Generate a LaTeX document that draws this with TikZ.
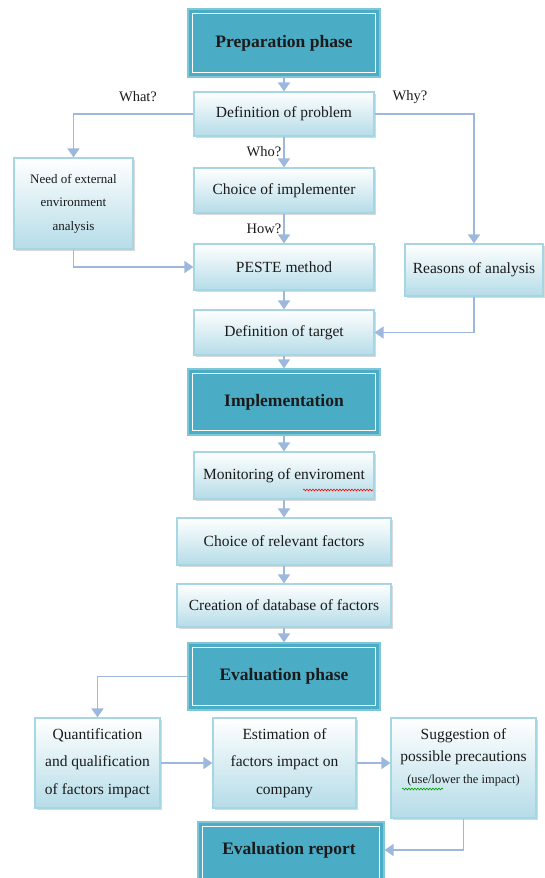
\documentclass[tikz,border=0pt]{standalone}
\usepackage{fontspec}
\setmainfont{Liberation Serif}
\usetikzlibrary{arrows.meta,shadows,decorations.pathmorphing,calc}
\definecolor{arr}{HTML}{9DB8DD}
\definecolor{lborder}{HTML}{A6D6E3}
\definecolor{lbottom}{HTML}{B5DCE8}
\definecolor{dfill}{HTML}{4BACC6}
\definecolor{dborder}{HTML}{7FC6D8}
\definecolor{txt}{HTML}{1A1A1A}
\begin{document}
\begin{tikzpicture}[x=1pt,y=-1pt,
  lbox/.style={draw=lborder,line width=1.2pt,top color=white,bottom color=lbottom,
    drop shadow={shadow xshift=2pt,shadow yshift=-2pt,fill=black!25,opacity=0.6},
    align=center,inner sep=2pt,text=txt,font=\fontsize{15.5}{26}\selectfont},
  dbox/.style={draw=dborder,line width=1.2pt,fill=dfill,text=txt,
    font=\fontsize{17.5}{20}\selectfont\bfseries},
  conn/.style={draw=arr,line width=1.6pt,-{Triangle[width=12pt,length=9pt]}},
  qlabel/.style={text=txt,font=\fontsize{14.5}{17}\selectfont,inner sep=1pt},
  squig/.style={line width=0.6pt,decorate,decoration={snake,amplitude=0.9pt,segment length=3pt}}
]
\useasboundingbox (0,0) rectangle (545,878);
\clip (0,0) rectangle (545,878);
% dark boxes
\node[dbox,minimum width=192pt,minimum height=68pt] (prep) at (284,43) {};
\node[dbox,minimum width=192pt,minimum height=66pt] (impl) at (284,402) {};
\node[dbox,minimum width=192pt,minimum height=67pt] (evalp) at (284,676.5) {};
\node[dbox,minimum width=186pt,minimum height=70pt] (report) at (291,857) {};
\foreach \n in {prep,impl,evalp,report}{
  \draw[white,line width=1.5pt] ($(\n.north west)+(5,5)$) rectangle ($(\n.south east)+(-5,-5)$);
}
\node[dbox,draw=none,fill=none] (preptext) at (prep) {Preparation phase};
\node[dbox,draw=none,fill=none] (impltext) at (impl) {Implementation};
\node[dbox,draw=none,fill=none] (evalptext) at (evalp) {Evaluation phase};
\node[dbox,draw=none,fill=none] (reporttext) at (289,850) {Evaluation report};
% light boxes
\node[lbox,minimum width=180pt,minimum height=44pt] (defp) at (284,114) {Definition of problem};
\node[lbox,minimum width=180pt,minimum height=45pt] (choice) at (284,190.5) {Choice of implementer};
\node[lbox,minimum width=180pt,minimum height=46pt] (peste) at (284,267) {PESTE method};
\node[lbox,minimum width=119pt,minimum height=91pt,font=\fontsize{13}{23.5}\selectfont] (need) at (73.5,203.5) {Need of external\\environment\\analysis};
\node[lbox,minimum width=138pt,minimum height=52pt] (reasons) at (474,270) {Reasons of analysis};
\node[lbox,minimum width=180pt,minimum height=45pt] (target) at (284,332.5) {Definition of target};
\node[lbox,minimum width=180pt,minimum height=47pt] (monit) at (284,475.5) {Monitoring of enviroment};
\node[lbox,minimum width=214pt,minimum height=47pt] (relev) at (284,541.5) {Choice of relevant factors};
\node[lbox,minimum width=214pt,minimum height=43pt] (create) at (284,605.5) {Creation of database of factors};
\node[lbox,minimum width=125pt,minimum height=90pt,font=\fontsize{15.5}{27.5}\selectfont] (quant) at (97.5,763) {Quantification\\and qualification\\of factors impact};
\node[lbox,minimum width=143pt,minimum height=90pt,font=\fontsize{15.5}{27.5}\selectfont] (estim) at (284.5,763) {Estimation of\\factors impact on\\company};
\node[lbox,minimum width=145pt,minimum height=100pt] (sugg) at (463.5,768) {};
\node[align=center,text=txt,font=\fontsize{15.5}{22}\selectfont,inner sep=0pt] (suggtext) at (463.5,757) {Suggestion of\\possible precautions\\{\fontsize{12.5}{22}\selectfont (use/lower the impact)}};
% spell-check squiggles
\draw[red,squig] (303,490) -- (373,490);
\draw[green!60!black,squig] (402,789) -- (443,789);
% connectors
\draw[conn] (prep) -- (defp);
\draw[conn] (defp) -- node[qlabel,left,pos=0.5,xshift=-1pt] (who) {Who?} (choice);
\draw[conn] (choice) -- node[qlabel,left,pos=0.5,xshift=-1pt] (how) {How?} (peste);
\draw[conn] (defp.west) -| (need.north);
\node[qlabel] (what) at (138,97) {What?};
\draw[conn] (defp.east) -| (reasons.north);
\node[qlabel] (why) at (410,97) {Why?};
\draw[conn] (need.south) |- (peste.west);
\draw[conn] (peste) -- (target);
\draw[conn] (reasons.south) |- (target.east);
\draw[conn] (target) -- (impl);
\draw[conn] (impl) -- (monit);
\draw[conn] (monit) -- (relev);
\draw[conn] (relev) -- (create);
\draw[conn] (create) -- (evalp);
\draw[conn] (evalp.west) -| (quant.north);
\draw[conn] (quant) -- (estim);
\draw[conn] (estim) -- (quant.east -| sugg.west);
\draw[conn] (sugg.south) |- (reporttext.east -| report.east);
\end{tikzpicture}
\end{document}
